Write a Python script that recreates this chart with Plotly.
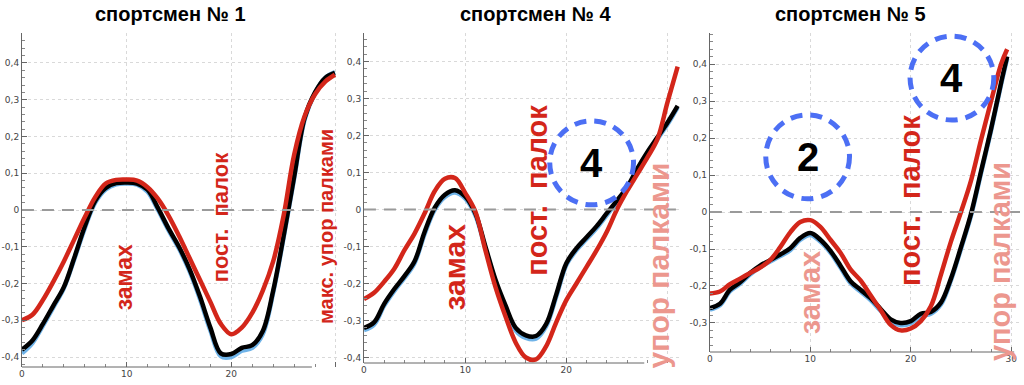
import plotly.graph_objects as go

# ---------------- data ----------------
x1 = [0, 1, 2, 3, 4, 5, 6, 7, 8, 9, 10, 11, 12, 13, 14, 15, 16, 17, 18, 19, 20,
      21, 22, 23, 24, 25, 26, 27, 28, 29, 29.9]
red1 = [-0.30, -0.285, -0.245, -0.195, -0.14, -0.08, -0.02, 0.035, 0.072, 0.082, 0.083,
        0.08, 0.062, 0.03, -0.015, -0.07, -0.13, -0.19, -0.25, -0.31, -0.338,
        -0.32, -0.28, -0.22, -0.14, -0.015, 0.15, 0.255, 0.315, 0.35, 0.368]
black1 = [-0.38, -0.355, -0.31, -0.26, -0.21, -0.13, -0.045, 0.025, 0.06, 0.073, 0.075,
          0.072, 0.055, 0.005, -0.05, -0.1, -0.16, -0.235, -0.32, -0.39, -0.392,
          -0.375, -0.368, -0.33, -0.22, -0.07, 0.09, 0.25, 0.32, 0.36, 0.373]
blue1 = [-0.39, -0.362, -0.315, -0.265, -0.213, -0.134, -0.05, 0.02, 0.056, 0.07, 0.072,
         0.069, 0.05, 0.0, -0.055, -0.105, -0.166, -0.242, -0.328, -0.398, -0.40,
         -0.383, -0.375, -0.338, -0.225, -0.075, 0.085, 0.245, 0.318, 0.36, 0.375]

x2 = [0, 1, 2, 3, 4, 5, 6, 7, 8, 9, 10, 11, 12, 13, 14, 15, 16, 17, 18, 19, 20,
      21, 22, 23, 24, 25, 26, 27, 28, 29, 30, 31]
red2 = [-0.242, -0.225, -0.195, -0.16, -0.11, -0.065, -0.01, 0.05, 0.083, 0.085, 0.045,
        -0.005, -0.11, -0.21, -0.29, -0.36, -0.40, -0.405, -0.37, -0.305, -0.245,
        -0.20, -0.155, -0.11, -0.06, 0.0, 0.05, 0.095, 0.14, 0.19, 0.29, 0.386]
black2 = [-0.32, -0.305, -0.255, -0.215, -0.18, -0.14, -0.06, 0.005, 0.04, 0.052, 0.035,
          -0.01, -0.10, -0.19, -0.26, -0.32, -0.34, -0.342, -0.31, -0.23, -0.145,
          -0.105, -0.075, -0.045, -0.01, 0.024, 0.06, 0.11, 0.155, 0.195, 0.235, 0.28]
blue2 = [-0.326, -0.311, -0.26, -0.22, -0.185, -0.145, -0.066, 0.0, 0.034, 0.046, 0.03,
         -0.015, -0.105, -0.195, -0.266, -0.327, -0.347, -0.349, -0.316, -0.236, -0.15,
         -0.11, -0.08, -0.05, -0.015, 0.02, 0.056, 0.106, 0.15, 0.19, 0.23, 0.276]

x3 = [0, 1, 2, 3, 4, 5, 6, 7, 8, 9, 10, 11, 12, 13, 14, 15, 16, 17, 18, 19, 20,
      21, 22, 23, 24, 25, 26, 27, 28, 29, 29.6]
red3 = [-0.22, -0.215, -0.195, -0.18, -0.165, -0.15, -0.13, -0.095, -0.055, -0.027, -0.022,
        -0.04, -0.075, -0.11, -0.155, -0.185, -0.225, -0.265, -0.305, -0.32, -0.315,
        -0.295, -0.255, -0.17, -0.08, 0.0, 0.085, 0.195, 0.30, 0.40, 0.44]
black3 = [-0.26, -0.248, -0.21, -0.19, -0.165, -0.145, -0.13, -0.115, -0.098, -0.07, -0.057,
          -0.075, -0.105, -0.145, -0.187, -0.21, -0.233, -0.262, -0.29, -0.30, -0.295,
          -0.275, -0.27, -0.245, -0.18, -0.095, -0.005, 0.11, 0.225, 0.35, 0.42]
blue3 = [-0.264, -0.252, -0.214, -0.194, -0.169, -0.149, -0.134, -0.119, -0.103, -0.075, -0.062,
         -0.08, -0.11, -0.15, -0.192, -0.215, -0.238, -0.267, -0.296, -0.306, -0.301,
         -0.281, -0.275, -0.25, -0.185, -0.1, -0.01, 0.105, 0.22, 0.345, 0.415]

titles = ["спортсмен № 1", "спортсмен № 4", "спортсмен № 5"]
y_ticks_12 = [-0.4, -0.3, -0.2, -0.1, 0, 0.1, 0.2, 0.3, 0.4]
y_labels_12 = ["-0,4", "-0,3", "-0,2", "-0,1", "0", "0,1", "0,2", "0,3", "0,4"]
y_ticks_3 = [-0.3, -0.2, -0.1, 0, 0.1, 0.2, 0.3, 0.4]
y_labels_3 = ["-0,3", "-0,2", "-0,1", "0", "0,1", "0,2", "0,3", "0,4"]
x_ticks = [0, 10, 20, 30]
x_labels_12 = ["0", "10", "20", ""]
x_labels_3 = ["0", "10", "20", "30"]

# ---------------- style ----------------
W, H = 1024, 385
RED = "#d3261a"
PINK = "#ec978e"
BLUE_C = "#4c6ff4"
BLUE_L = "#6fb3e8"
FONT = "Liberation Sans, Arial, sans-serif"


def fx(p):
    return p / W


def fy(p):
    return 1 - p / H


fig = go.Figure()

panels = [
    dict(x=x1, r=red1, k=black1, b=blue1, xa="x", ya="y"),
    dict(x=x2, r=red2, k=black2, b=blue2, xa="x2", ya="y2"),
    dict(x=x3, r=red3, k=black3, b=blue3, xa="x3", ya="y3"),
]
for p in panels:
    fig.add_trace(go.Scatter(x=p["x"], y=p["b"], mode="lines", xaxis=p["xa"], yaxis=p["ya"],
                             line=dict(color=BLUE_L, width=4.5, shape="spline"), hoverinfo="skip"))
    fig.add_trace(go.Scatter(x=p["x"], y=p["k"], mode="lines", xaxis=p["xa"], yaxis=p["ya"],
                             line=dict(color="#000000", width=4.5, shape="spline"), hoverinfo="skip"))
    fig.add_trace(go.Scatter(x=p["x"], y=p["r"], mode="lines", xaxis=p["xa"], yaxis=p["ya"],
                             line=dict(color=RED, width=4.5, shape="spline"), hoverinfo="skip"))

# panel geometry (pixels)
geo = [
    dict(xd=(19, 335), yd=(33, 367), xr=(0, 30.1), yr=(-0.4272, 0.4816),
         yt=y_ticks_12, yl=y_labels_12, xl=x_labels_12),
    dict(xd=(362, 681), yd=(33, 363), xr=(0, 31.43), yr=(-0.4149, 0.477),
         yt=y_ticks_12, yl=y_labels_12, xl=x_labels_12),
    dict(xd=(709, 1020), yd=(33, 352), xr=(0, 30.88), yr=(-0.3784, 0.4838),
         yt=y_ticks_3, yl=y_labels_3, xl=x_labels_3),
]
layout = {}
for i, g in enumerate(geo):
    s = "" if i == 0 else str(i + 1)
    layout["xaxis" + s] = dict(
        domain=[fx(g["xd"][0]), fx(g["xd"][1])], range=list(g["xr"]),
        anchor="y" + s, tickmode="array", tickvals=x_ticks, ticktext=g["xl"],
        showline=False, zeroline=False, showgrid=True, gridcolor="#d9d9d9",
        griddash="dot", gridwidth=1, ticks="inside", ticklen=5, tickcolor="#666",
        tickfont=dict(family="DejaVu Sans, sans-serif", size=9, color="#444"),
        minor=dict(dtick=2, tick0=0, ticks="inside", ticklen=3, tickcolor="#888", showgrid=False),
        fixedrange=True,
    )
    layout["yaxis" + s] = dict(
        domain=[fy(g["yd"][1]), fy(g["yd"][0])], range=list(g["yr"]),
        anchor="x" + s, tickmode="array", tickvals=g["yt"], ticktext=g["yl"],
        showline=True, linecolor="#666", linewidth=1, zeroline=False,
        showgrid=True, gridcolor="#d9d9d9", griddash="dot", gridwidth=1,
        ticks="inside", ticklen=5, tickcolor="#666",
        tickfont=dict(family="DejaVu Sans, sans-serif", size=9, color="#444"),
        minor=dict(dtick=0.02, tick0=0, ticks="inside", ticklen=3, tickcolor="#888", showgrid=False),
        fixedrange=True,
    )

shapes = []
for xa, ya, xend in [("x", "y", 27.7), ("x2", "y2", 27.7), ("x3", "y3", 30.3)]:
    shapes.append(dict(type="line", xref=xa, yref=ya + " domain", x0=0, x1=xend, y0=0, y1=0,
                       line=dict(color="#666", width=1)))
    shapes.append(dict(type="line", xref=xa + " domain", yref=ya, x0=0, x1=1, y0=0, y1=0,
                       line=dict(color="#9a9a9a", width=2, dash="12px,8px")))

circles = [("x2", "y2", 22.5, 0.126, 4.14, 0.1135, "4"),
           ("x3", "y3", 9.73, 0.149, 4.17, 0.1135, "2"),
           ("x3", "y3", 24.1, 0.362, 4.17, 0.1135, "4")]
annotations = []
for xa, ya, cx, cy, rx, ry, t in circles:
    shapes.append(dict(type="circle", xref=xa, yref=ya, x0=cx - rx, x1=cx + rx,
                       y0=cy - ry, y1=cy + ry, line=dict(color=BLUE_C, width=5, dash="12px,8px")))
    annotations.append(dict(xref=xa, yref=ya, x=cx, y=cy, text="<b>" + t + "</b>",
                            showarrow=False, xanchor="center", yanchor="middle",
                            font=dict(family=FONT, size=40, color="#000")))

for t, cxp in zip(titles, [168, 534, 850]):
    annotations.append(dict(xref="paper", yref="paper", x=fx(cxp), y=fy(14), text="<b>" + t + "</b>",
                            showarrow=False, xanchor="center", yanchor="middle",
                            font=dict(family=FONT, size=20, color="#000")))

labels = [
    ("x", "y", 9.7, -0.182, "замах", RED, 23),
    ("x", "y", 19.05, -0.019, "пост.\u00a0\u00a0палок", RED, 22),
    ("x", "y", 29.05, -0.046, "макс. упор палками", RED, 20),
    ("x2", "y2", 8.97, -0.155, "замах", RED, 30),
    ("x2", "y2", 17.1, 0.053, "пост.\u00a0\u00a0палок", RED, 29),
    ("x2", "y2", 29.2, -0.15, "упор палками", PINK, 30),
    ("x3", "y3", 10.0, -0.216, "замах", PINK, 29),
    ("x3", "y3", 19.9, 0.032, "пост.\u00a0\u00a0палок", RED, 29),
    ("x3", "y3", 28.9, -0.135, "упор палками", PINK, 29),
]
for xa, ya, x, y, t, c, s in labels:
    annotations.append(dict(xref=xa, yref=ya, x=x, y=y, text="<b>" + t + "</b>", textangle=-90,
                            showarrow=False, xanchor="center", yanchor="middle",
                            font=dict(family=FONT, size=s, color=c)))

fig.update_layout(
    width=W, height=H, margin=dict(l=0, r=0, t=0, b=0),
    paper_bgcolor="white", plot_bgcolor="white", showlegend=False,
    shapes=shapes, annotations=annotations, **layout,
)

fig.write_html("out.html", config={"displayModeBar": False},
               post_script="document.body.style.margin='0';document.body.style.overflow='hidden';")
